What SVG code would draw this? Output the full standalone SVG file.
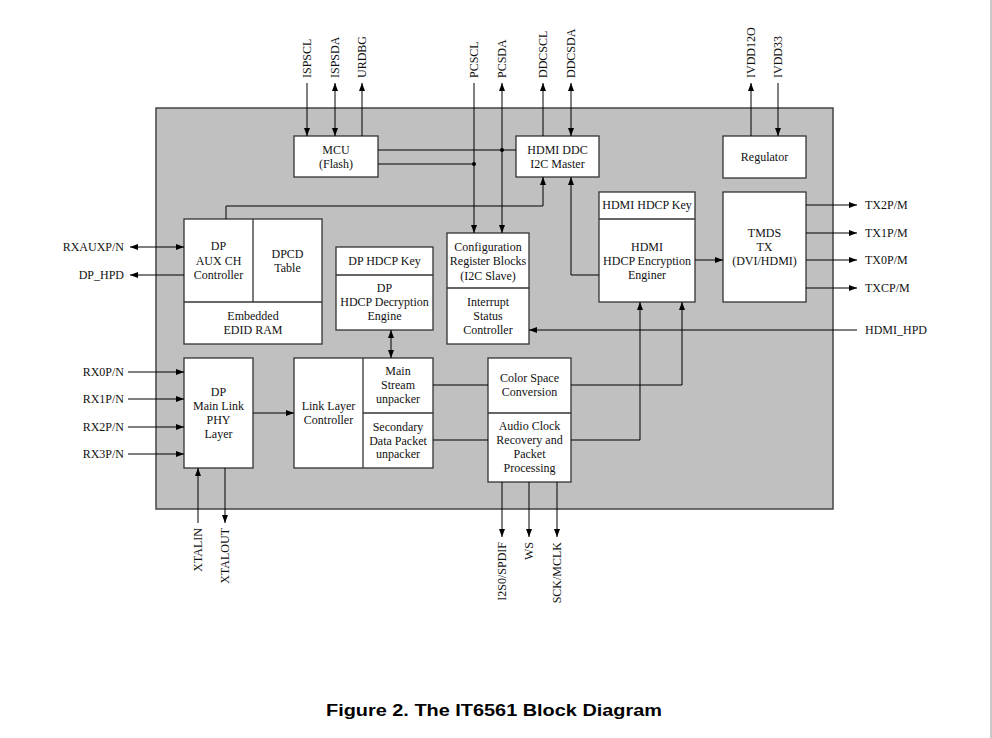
<svg xmlns="http://www.w3.org/2000/svg" width="992" height="738" viewBox="0 0 992 738">
<defs>
<marker id="ah" viewBox="0 0 8 6" markerWidth="8" markerHeight="6" refX="8" refY="3" orient="auto-start-reverse" markerUnits="userSpaceOnUse">
<path d="M0,0 L8,3 L0,6 z" fill="#000"/>
</marker>
<style>
.blk{fill:#fff;stroke:#333;stroke-width:1.3}
.div{stroke:#333;stroke-width:1.3;fill:none}
.t{font-family:"Liberation Serif","Times New Roman",serif;font-size:12px;fill:#111;text-anchor:middle}
.l{font-family:"Liberation Serif","Times New Roman",serif;font-size:12px;fill:#111}
.c{fill:none;stroke:#000;stroke-width:1}
.a{fill:none;stroke:#000;stroke-width:1;marker-end:url(#ah)}
.b{fill:none;stroke:#000;stroke-width:1;marker-end:url(#ah);marker-start:url(#ah)}
</style>
</defs>
<rect x="0" y="0" width="992" height="738" fill="#fff"/>
<rect x="990" y="0" width="2" height="738" fill="#c8c8c8"/>
<rect id="chip" x="156" y="108" width="677" height="401" fill="#c0c0c0" stroke="#444" stroke-width="1.5"/>

<g id="mcu"><rect class="blk" x="294" y="136" width="84" height="41"/>
<text class="t" x="336" y="154">MCU</text><text class="t" x="336" y="168">(Flash)</text></g>

<g id="ddc"><rect class="blk" x="516" y="136" width="83" height="41"/>
<text class="t" x="557.5" y="154">HDMI DDC</text><text class="t" x="557.5" y="168">I2C Master</text></g>

<g id="regulator"><rect class="blk" x="723" y="136" width="83" height="42"/>
<text class="t" x="764.5" y="161">Regulator</text></g>

<g id="hdmi-hdcp"><rect class="blk" x="599" y="192" width="96" height="110"/>
<line class="div" x1="599" y1="219" x2="695" y2="219"/>
<text class="t" x="647" y="209">HDMI HDCP Key</text>
<text class="t" x="647" y="251">HDMI</text><text class="t" x="647" y="265">HDCP Encryption</text><text class="t" x="647" y="279">Enginer</text></g>

<g id="tmds"><rect class="blk" x="723" y="192" width="83" height="110"/>
<text class="t" x="764.5" y="237">TMDS</text><text class="t" x="764.5" y="251">TX</text><text class="t" x="764.5" y="265">(DVI/HDMI)</text></g>

<g id="dp-aux"><rect class="blk" x="184" y="219" width="138" height="125"/>
<line class="div" x1="253" y1="219" x2="253" y2="302"/>
<line class="div" x1="184" y1="302" x2="322" y2="302"/>
<text class="t" x="218.5" y="250">DP</text><text class="t" x="218.5" y="265">AUX CH</text><text class="t" x="218.5" y="279">Controller</text>
<text class="t" x="287.5" y="258">DPCD</text><text class="t" x="287.5" y="272">Table</text>
<text class="t" x="253" y="320">Embedded</text><text class="t" x="253" y="334">EDID RAM</text></g>

<g id="dp-hdcp"><rect class="blk" x="336" y="247" width="97" height="83"/>
<line class="div" x1="336" y1="275" x2="433" y2="275"/>
<text class="t" x="384.5" y="265">DP HDCP Key</text>
<text class="t" x="384.5" y="292">DP</text><text class="t" x="384.5" y="306">HDCP Decryption</text><text class="t" x="384.5" y="320">Engine</text></g>

<g id="config"><rect class="blk" x="447" y="233" width="82" height="111"/>
<line class="div" x1="447" y1="288" x2="529" y2="288"/>
<text class="t" x="488" y="251">Configuration</text><text class="t" x="488" y="265">Register Blocks</text><text class="t" x="488" y="280">(I2C Slave)</text>
<text class="t" x="488" y="306">Interrupt</text><text class="t" x="488" y="320">Status</text><text class="t" x="488" y="334">Controller</text></g>

<g id="phy"><rect class="blk" x="184" y="358" width="69" height="110"/>
<text class="t" x="218.5" y="396">DP</text><text class="t" x="218.5" y="410">Main Link</text><text class="t" x="218.5" y="424">PHY</text><text class="t" x="218.5" y="438">Layer</text></g>

<g id="link-layer"><rect class="blk" x="294" y="358" width="139" height="110"/>
<line class="div" x1="363" y1="358" x2="363" y2="468"/>
<line class="div" x1="363" y1="413" x2="433" y2="413"/>
<text class="t" x="328.5" y="410">Link Layer</text><text class="t" x="328.5" y="424">Controller</text>
<text class="t" x="398" y="375">Main</text><text class="t" x="398" y="389">Stream</text><text class="t" x="398" y="403">unpacker</text>
<text class="t" x="398" y="431">Secondary</text><text class="t" x="398" y="445">Data Packet</text><text class="t" x="398" y="458">unpacker</text></g>

<g id="csc-audio"><rect class="blk" x="488" y="358" width="83" height="124"/>
<line class="div" x1="488" y1="413" x2="571" y2="413"/>
<text class="t" x="529.5" y="382">Color Space</text><text class="t" x="529.5" y="396">Conversion</text>
<text class="t" x="529.5" y="430">Audio Clock</text><text class="t" x="529.5" y="444">Recovery and</text><text class="t" x="529.5" y="458">Packet</text><text class="t" x="529.5" y="472">Processing</text></g>

<g id="connectors">
<line class="a" x1="307" y1="83" x2="307" y2="136"/>
<line class="b" x1="335" y1="83" x2="335" y2="136"/>
<line class="a" x1="362" y1="136" x2="362" y2="83"/>
<line class="a" x1="474" y1="83" x2="474" y2="233"/>
<line class="b" x1="502" y1="83" x2="502" y2="233"/>
<line class="a" x1="543" y1="136" x2="543" y2="83"/>
<line class="b" x1="571" y1="83" x2="571" y2="136"/>
<line class="c" x1="378" y1="150" x2="516" y2="150"/>
<line class="c" x1="378" y1="164" x2="474" y2="164"/>
<circle cx="502" cy="150" r="2" fill="#000"/>
<circle cx="474" cy="164" r="2" fill="#000"/>
<polyline class="a" points="226,219 226,206 543,206 543,177"/>
<polyline class="a" points="599,275 571,275 571,177"/>
<line class="a" x1="751" y1="136" x2="751" y2="83"/>
<line class="a" x1="778" y1="83" x2="778" y2="136"/>
<line class="a" x1="695" y1="260" x2="723" y2="260"/>
<line class="a" x1="806" y1="205" x2="857" y2="205"/>
<line class="a" x1="806" y1="233" x2="857" y2="233"/>
<line class="a" x1="806" y1="260" x2="857" y2="260"/>
<line class="a" x1="806" y1="288" x2="857" y2="288"/>
<line class="a" x1="857" y1="330" x2="529" y2="330"/>
<line class="b" x1="130" y1="247" x2="184" y2="247"/>
<line class="a" x1="184" y1="275" x2="130" y2="275"/>
<line class="a" x1="128" y1="372" x2="184" y2="372"/>
<line class="a" x1="128" y1="399" x2="184" y2="399"/>
<line class="a" x1="128" y1="427" x2="184" y2="427"/>
<line class="a" x1="128" y1="454" x2="184" y2="454"/>
<line class="a" x1="253" y1="413" x2="294" y2="413"/>
<line class="b" x1="391" y1="330" x2="391" y2="358"/>
<line class="c" x1="433" y1="385" x2="488" y2="385"/>
<line class="c" x1="433" y1="440" x2="488" y2="440"/>
<polyline class="a" points="571,385 682,385 682,302"/>
<polyline class="a" points="571,440 640,440 640,302"/>
<line class="a" x1="198" y1="523" x2="198" y2="468"/>
<line class="a" x1="225" y1="468" x2="225" y2="523"/>
<line class="a" x1="502" y1="482" x2="502" y2="537"/>
<line class="a" x1="529" y1="482" x2="529" y2="537"/>
<line class="a" x1="557" y1="482" x2="557" y2="537"/>
</g>

<g id="labels">
<text class="l" transform="translate(311,78) rotate(-90)">ISPSCL</text>
<text class="l" transform="translate(339,78) rotate(-90)">ISPSDA</text>
<text class="l" transform="translate(366,78) rotate(-90)">URDBG</text>
<text class="l" transform="translate(478,78) rotate(-90)">PCSCL</text>
<text class="l" transform="translate(506,78) rotate(-90)">PCSDA</text>
<text class="l" transform="translate(547,78) rotate(-90)">DDCSCL</text>
<text class="l" transform="translate(575,78) rotate(-90)">DDCSDA</text>
<text class="l" transform="translate(755,78) rotate(-90)">IVDD12O</text>
<text class="l" transform="translate(782,78) rotate(-90)">IVDD33</text>
<text class="l" text-anchor="end" x="124" y="251">RXAUXP/N</text>
<text class="l" text-anchor="end" x="124" y="279">DP_HPD</text>
<text class="l" text-anchor="end" x="124" y="376">RX0P/N</text>
<text class="l" text-anchor="end" x="124" y="403">RX1P/N</text>
<text class="l" text-anchor="end" x="124" y="431">RX2P/N</text>
<text class="l" text-anchor="end" x="124" y="458">RX3P/N</text>
<text class="l" x="865" y="209">TX2P/M</text>
<text class="l" x="865" y="237">TX1P/M</text>
<text class="l" x="865" y="264">TX0P/M</text>
<text class="l" x="865" y="292">TXCP/M</text>
<text class="l" x="865" y="334">HDMI_HPD</text>
<text class="l" text-anchor="end" transform="translate(202,528) rotate(-90)">XTALIN</text>
<text class="l" text-anchor="end" transform="translate(229,528) rotate(-90)">XTALOUT</text>
<text class="l" text-anchor="end" transform="translate(506,542) rotate(-90)">I2S0/SPDIF</text>
<text class="l" text-anchor="end" transform="translate(533,542) rotate(-90)">WS</text>
<text class="l" text-anchor="end" transform="translate(561,542) rotate(-90)">SCK/MCLK</text>
</g>

<text x="326" y="716" textLength="336" lengthAdjust="spacingAndGlyphs" style="font-family:'Liberation Sans',Arial,sans-serif;font-size:16px;font-weight:bold;fill:#000">Figure 2. The IT6561 Block Diagram</text>
</svg>
